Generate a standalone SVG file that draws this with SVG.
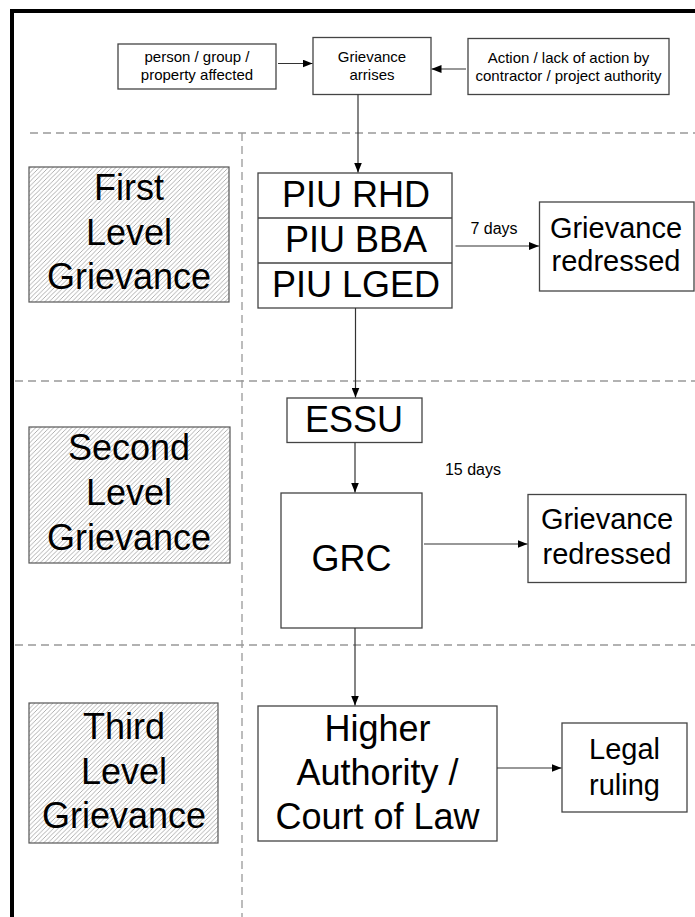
<svg xmlns="http://www.w3.org/2000/svg" width="695" height="917" viewBox="0 0 695 917">
<style>
text{font-family:"Liberation Sans",Arial,sans-serif;fill:#000;text-anchor:middle}
.box{fill:#fff;stroke:#444;stroke-width:1.3}
.hat{fill:url(#hatch);stroke:#555;stroke-width:1.2}
.dash{stroke:#999;stroke-width:1.3;stroke-dasharray:8 5;fill:none}
.con{stroke:#333;stroke-width:1.2;fill:none;marker-end:url(#arr)}
.sm{font-size:15px}
.lb{font-size:16px}
.big{font-size:36px}
.md{font-size:29px}
</style>
<defs>
<pattern id="hatch" width="4.5" height="4.5" patternUnits="userSpaceOnUse">
<rect width="4.5" height="4.5" fill="#fff"/>
<path d="M-1,1 L1,-1 M0,4.5 L4.5,0 M3.5,5.5 L5.5,3.5" stroke="#a8a8a8" stroke-width="0.9"/>
</pattern>
<marker id="arr" markerWidth="10" markerHeight="8" refX="10" refY="4" orient="auto" markerUnits="userSpaceOnUse">
<path d="M0,0 L10,4 L0,8 Z" fill="#000"/>
</marker>
</defs>
<rect width="695" height="917" fill="#fff"/>
<path d="M12,917 V11 H695" fill="none" stroke="#000" stroke-width="4"/>
<g id="dividers">
<line class="dash" x1="30" y1="133" x2="695" y2="133"/>
<line class="dash" x1="15" y1="381" x2="695" y2="381"/>
<line class="dash" x1="15" y1="645" x2="695" y2="645"/>
<line class="dash" x1="242" y1="133" x2="242" y2="917"/>
</g>
<g id="level1">
<rect class="hat" x="29" y="167" width="200" height="135"/>
<text class="big" x="129" y="200">First</text>
<text class="big" x="129" y="244.5">Level</text>
<text class="big" x="129" y="289">Grievance</text>
</g>
<g id="level2">
<rect class="hat" x="29" y="427" width="201" height="136"/>
<text class="big" x="129" y="460">Second</text>
<text class="big" x="129" y="505">Level</text>
<text class="big" x="129" y="550">Grievance</text>
</g>
<g id="level3">
<rect class="hat" x="29" y="703" width="189" height="140"/>
<text class="big" x="124" y="739">Third</text>
<text class="big" x="124" y="783.5">Level</text>
<text class="big" x="124" y="828">Grievance</text>
</g>
<g id="affected">
<rect class="box" x="118" y="44" width="158" height="45"/>
<text class="sm" x="197" y="62">person / group /</text>
<text class="sm" x="197" y="80">property affected</text>
</g>
<g id="arises">
<rect class="box" x="313" y="37.5" width="118" height="57"/>
<text class="sm" x="372" y="62">Grievance</text>
<text class="sm" x="372" y="80">arrises</text>
</g>
<g id="action">
<rect class="box" x="468" y="38.5" width="201" height="56"/>
<text class="sm" x="568.5" y="63">Action / lack of action by</text>
<text class="sm" x="568.5" y="81">contractor / project authority</text>
</g>
<g id="piu">
<rect class="box" x="258" y="173" width="194" height="135"/>
<line x1="258" y1="218" x2="452" y2="218" stroke="#444" stroke-width="1.3"/>
<line x1="258" y1="263" x2="452" y2="263" stroke="#444" stroke-width="1.3"/>
<text class="big" x="356" y="207">PIU RHD</text>
<text class="big" x="356" y="252">PIU BBA</text>
<text class="big" x="356" y="297">PIU LGED</text>
</g>
<g id="redressed1">
<rect class="box" x="539.5" y="202" width="154.5" height="89"/>
<text class="md" x="616" y="238">Grievance</text>
<text class="md" x="616" y="271">redressed</text>
</g>
<g id="essu">
<rect class="box" x="287" y="398" width="135" height="44.5"/>
<text class="big" x="354" y="432">ESSU</text>
</g>
<g id="grc">
<rect class="box" x="281" y="493" width="141" height="135"/>
<text class="big" x="351.5" y="571">GRC</text>
</g>
<g id="redressed2">
<rect class="box" x="528" y="494.5" width="158" height="88"/>
<text class="md" x="607" y="529">Grievance</text>
<text class="md" x="607" y="564">redressed</text>
</g>
<g id="higher">
<rect class="box" x="258" y="706" width="239" height="135"/>
<text class="big" x="377.5" y="741">Higher</text>
<text class="big" x="377.5" y="785">Authority /</text>
<text class="big" x="377.5" y="829">Court of Law</text>
</g>
<g id="legal">
<rect class="box" x="562" y="723" width="125" height="89"/>
<text class="md" x="624.5" y="758.5">Legal</text>
<text class="md" x="624.5" y="795">ruling</text>
</g>
<g id="connectors">
<line class="con" x1="278" y1="63.5" x2="312.5" y2="63.5"/>
<line class="con" x1="466" y1="69" x2="431.5" y2="69"/>
<line class="con" x1="358" y1="94.5" x2="358" y2="172.5"/>
<line class="con" x1="455.5" y1="246" x2="539" y2="246"/>
<line class="con" x1="355.5" y1="308" x2="355.5" y2="397.5"/>
<line class="con" x1="355" y1="442.5" x2="355" y2="492.5"/>
<line class="con" x1="424" y1="544" x2="527.5" y2="544"/>
<line class="con" x1="355" y1="628" x2="355" y2="705.5"/>
<line class="con" x1="497" y1="768" x2="561.5" y2="768"/>
<text class="lb" x="494" y="234">7 days</text>
<text class="lb" x="473" y="475">15 days</text>
</g>
</svg>
